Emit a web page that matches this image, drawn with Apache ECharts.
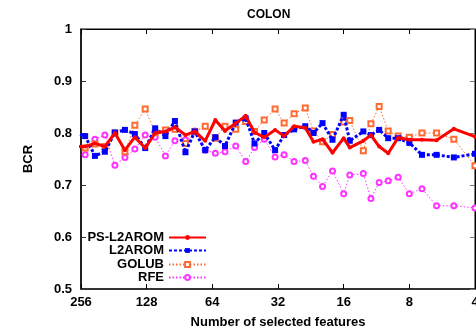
<!DOCTYPE html>
<html>
<head>
<meta charset="utf-8">
<script src="https://cdn.jsdelivr.net/npm/echarts@6/dist/echarts.min.js"></script>
<style>
  html, body { margin: 0; padding: 0; background: #fff; }
  #chart { width: 476px; height: 333px; }
</style>
</head>
<body>
<div id="chart"></div>
<script>
// number of selected features (x), first one lies just left of the frame
const features = [272, 245, 221, 199, 179, 161, 145, 130, 117, 105,
  95, 85, 77, 69, 62, 56, 50, 45, 41, 37,
  33, 30, 27, 24, 22, 20, 18, 16, 15, 13,
  12, 11, 10, 9, 8, 7, 6, 5, 4]

const psL2arom = [0.774, 0.774, 0.780, 0.774, 0.800, 0.767, 0.792, 0.771, 0.800, 0.803,
  0.811, 0.796, 0.803, 0.785, 0.825, 0.804, 0.819, 0.833, 0.801, 0.792,
  0.806, 0.794, 0.813, 0.810, 0.783, 0.788, 0.762, 0.790, 0.772, 0.785,
  0.796, 0.774, 0.761, 0.791, 0.787, 0.787, 0.786, 0.808, 0.793]

const l2arom = [0.800, 0.794, 0.756, 0.764, 0.801, 0.806, 0.798, 0.771, 0.809, 0.794,
  0.823, 0.763, 0.803, 0.767, 0.792, 0.775, 0.820, 0.828, 0.780, 0.800,
  0.767, 0.796, 0.807, 0.813, 0.800, 0.819, 0.787, 0.835, 0.785, 0.803,
  0.796, 0.806, 0.790, 0.790, 0.781, 0.758, 0.758, 0.753, 0.760]

const golub = [0.775, 0.771, 0.779, 0.774, 0.800, 0.764, 0.815, 0.846, 0.801, 0.806,
  0.807, 0.780, 0.803, 0.813, 0.790, 0.813, 0.807, 0.822, 0.803, 0.825,
  0.846, 0.819, 0.837, 0.848, 0.804, 0.783, 0.797, 0.821, 0.824, 0.766,
  0.818, 0.851, 0.804, 0.794, 0.792, 0.800, 0.800, 0.788, 0.737]

const rfe = [0.760, 0.758, 0.788, 0.796, 0.738, 0.753, 0.769, 0.796, 0.792, 0.756,
  0.785, 0.787, 0.804, 0.767, 0.761, 0.764, 0.775, 0.745, 0.772, 0.788,
  0.754, 0.758, 0.745, 0.747, 0.717, 0.697, 0.727, 0.683, 0.719, 0.722,
  0.674, 0.705, 0.708, 0.715, 0.683, 0.693, 0.660, 0.660, 0.656]

const seriesNames = ['PS-L2AROM', 'L2AROM', 'GOLUB', 'RFE']

const font = 'Liberation Sans, Arial, Helvetica, sans-serif'
const bold = { fontFamily: font, fontWeight: 'bold', fontSize: 13, color: '#000' }

function pairs (values) {
  return features.map((f, i) => [f, values[i]])
}

const chart = echarts.init(document.getElementById('chart'))

// one legend per row so the labels stay right aligned
const legendTops = [231, 244, 258, 271]
const legends = seriesNames.map((name, i) => ({
  data: [name],
  orient: 'vertical',
  right: 269,
  top: legendTops[i],
  align: 'right',
  padding: 0,
  itemWidth: 37,
  itemHeight: 6,
  selectedMode: false,
  textStyle: bold
}))

const xBase = {
  type: 'log',
  logBase: 2,
  min: 4,
  max: 256,
  splitNumber: 6,
  inverse: true,
  splitLine: { show: false },
  minorTick: { show: false }
}
const yBase = {
  type: 'value',
  min: 0.5,
  max: 1,
  interval: 0.1,
  splitLine: { show: false }
}

chart.setOption({
  animation: false,
  backgroundColor: '#fff',
  title: {
    text: 'COLON',
    left: 242,
    top: 4,
    textStyle: { fontFamily: font, fontWeight: 'bold', fontSize: 12, color: '#000' }
  },
  legend: legends,
  grid: {
    left: 81,
    right: 1,
    top: 29,
    bottom: 44,
    outerBoundsMode: 'none',
    show: true,
    borderColor: '#000',
    borderWidth: 1
  },
  xAxis: [
    Object.assign({}, xBase, {
      position: 'bottom',
      axisLine: { lineStyle: { color: '#333', width: 2 } },
      axisTick: { inside: true, length: 5, lineStyle: { color: '#000' } },
      axisLabel: Object.assign({ margin: 7, formatter: v => Math.round(v) }, bold),
      name: 'Number of selected features',
      nameLocation: 'middle',
      nameGap: 27,
      nameTextStyle: bold
    }),
    Object.assign({}, xBase, {
      position: 'top',
      axisLine: { lineStyle: { color: '#000', width: 1 } },
      axisTick: { inside: true, length: 5, lineStyle: { color: '#000' } },
      axisLabel: { show: false }
    })
  ],
  yAxis: [
    Object.assign({}, yBase, {
      position: 'left',
      axisLine: { lineStyle: { color: '#000', width: 1.5 } },
      axisTick: { inside: true, length: 5, lineStyle: { color: '#333' } },
      axisLabel: Object.assign({ margin: 9 }, bold),
      name: 'BCR',
      nameLocation: 'middle',
      nameGap: 46,
      nameTextStyle: bold
    }),
    Object.assign({}, yBase, {
      position: 'right',
      axisLine: { lineStyle: { color: '#000', width: 1 } },
      axisTick: { inside: true, length: 5, lineStyle: { color: '#777' } },
      axisLabel: { show: false }
    })
  ],
  series: [
    {
      name: seriesNames[0],
      type: 'line',
      data: pairs(psL2arom),
      z: 5,
      symbol: 'circle',
      symbolSize: 4,
      itemStyle: { color: '#ff0000' },
      lineStyle: { color: '#ff0000', width: 3 }
    },
    {
      name: seriesNames[1],
      type: 'line',
      data: pairs(l2arom),
      z: 4,
      symbol: 'rect',
      symbolSize: 6,
      itemStyle: { color: '#0000ff' },
      lineStyle: { color: '#0000ff', width: 3, type: [3, 2] }
    },
    {
      name: seriesNames[2],
      type: 'line',
      data: pairs(golub),
      z: 3,
      symbol: 'emptyRect',
      symbolSize: 5,
      itemStyle: { color: '#ff6a33', borderWidth: 1 },
      lineStyle: { color: '#ff6a33', width: 1, type: [1.5, 2] }
    },
    {
      name: seriesNames[3],
      type: 'line',
      data: pairs(rfe),
      z: 2,
      symbol: 'emptyCircle',
      symbolSize: 5,
      itemStyle: { color: '#ff33ff', borderWidth: 1 },
      lineStyle: { color: '#ff33ff', width: 1, type: [1.5, 2] }
    }
  ]
})
</script>
</body>
</html>
